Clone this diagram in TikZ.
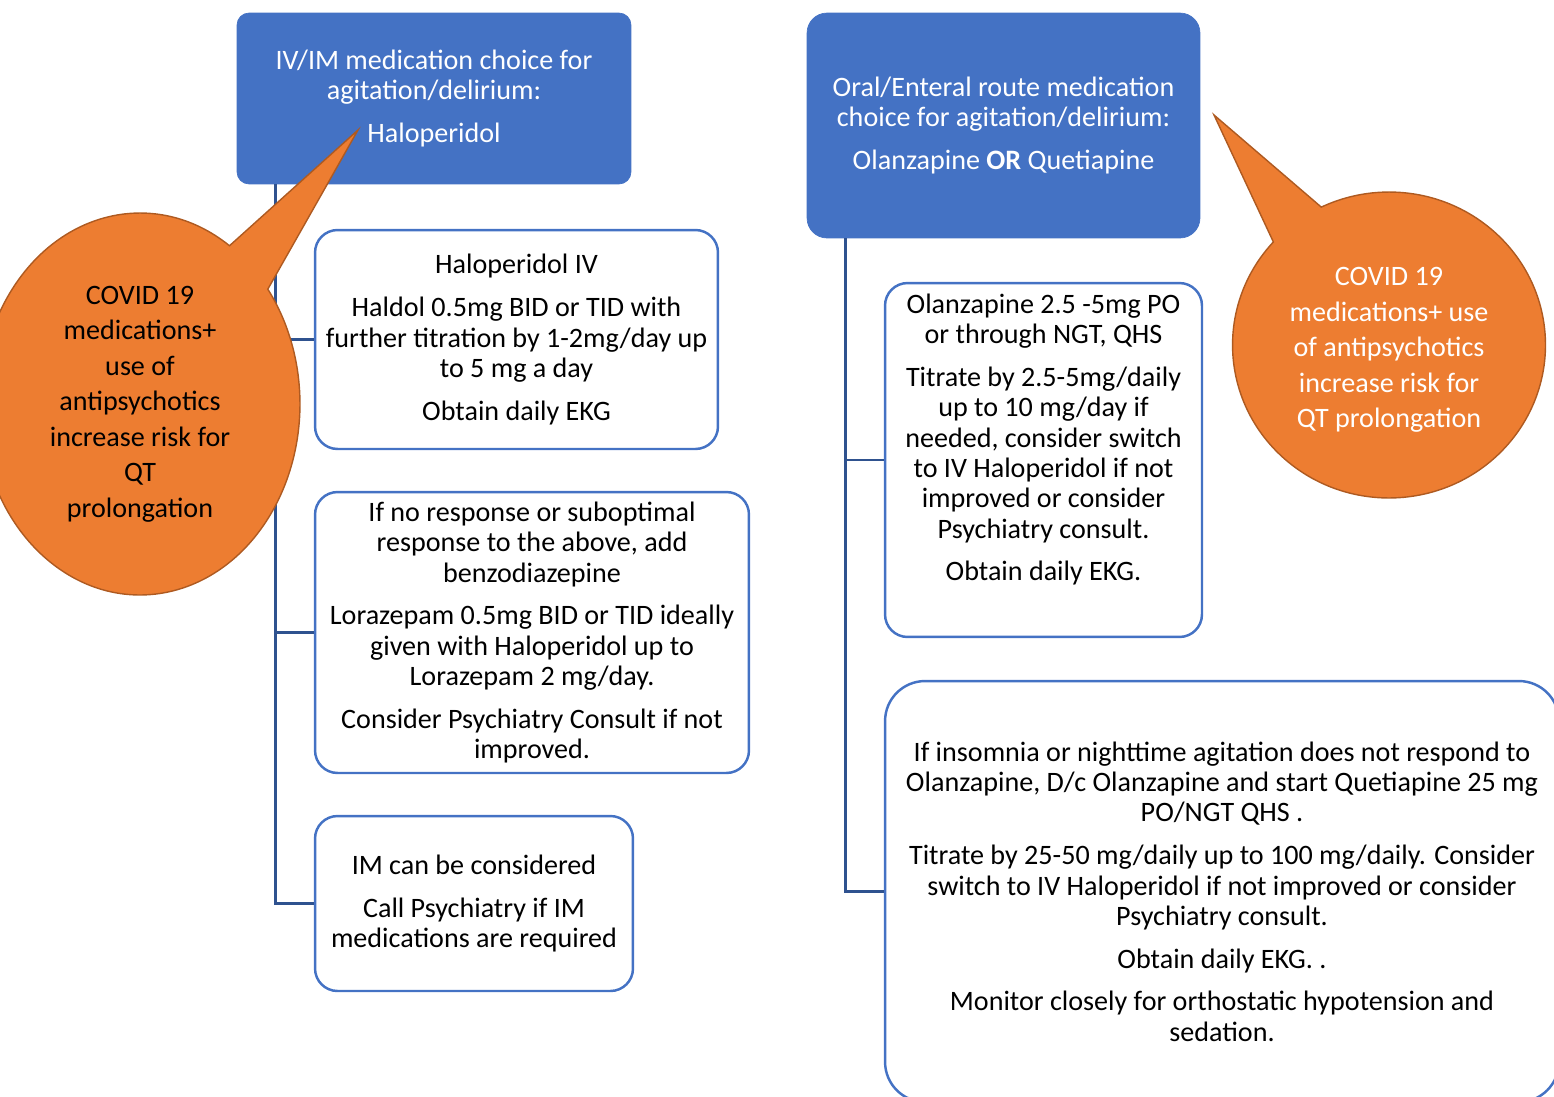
\documentclass[tikz,border=0pt]{standalone}
\usepackage{fontspec}
\setmainfont{Carlito}
\usetikzlibrary{shapes.callouts}
\definecolor{officeblue}{HTML}{4472C4}
\definecolor{linkblue}{HTML}{2F528F}
\definecolor{calloutorange}{HTML}{ED7D31}
\definecolor{calloutedge}{HTML}{AE5A21}

\begin{document}
\begin{tikzpicture}[x=0.02cm,y=-0.02cm]
        \tikzstyle{headbox} = [rectangle, fill=officeblue, draw=officeblue, text=white, align=center, font=\fontsize{16}{17.3}\selectfont]
        \tikzstyle{stepbox} = [rectangle, rounded corners=0.45cm, draw=officeblue, line width=1.4pt, fill=white, align=center, font=\fontsize{16}{17.3}\selectfont]
        \tikzstyle{bubble} = [ellipse callout, fill=calloutorange, draw=calloutedge, line width=0.8pt, align=center, inner sep=0pt, font=\fontsize{16}{20.2}\selectfont]
        \tikzstyle{link} = [draw=linkblue, line width=1.4pt]

                \path[use as bounding box, clip] (0,0) rectangle (1554,1096);

                % left column: IV/IM route
                \node (iv) [headbox, rounded corners=0.24cm, minimum width=7.88cm, minimum height=3.42cm] at (434,98.5) {IV/IM medication choice for\\agitation/delirium:\\[7pt]Haloperidol};
                \node (haloiv) [stepbox, minimum width=8.06cm, minimum height=4.38cm] at (516.5,339.5) {Haloperidol IV\\[7pt]Haldol 0.5mg BID or TID with\\further titration by 1-2mg/day up\\to 5 mg a day\\[7pt]Obtain daily EKG};
                \node (benzo) [stepbox, minimum width=8.68cm, minimum height=5.62cm] at (532,632.5) {If no response or suboptimal\\response to the above, add\\benzodiazepine\\[7pt]Lorazepam 0.5mg BID or TID ideally\\given with Haloperidol up to\\Lorazepam 2 mg/day.\\[7pt]Consider Psychiatry Consult if not\\improved.};
                \node (im) [stepbox, minimum width=6.36cm, minimum height=3.5cm] at (474,903.5) {IM can be considered\\[7pt]Call Psychiatry if IM\\medications are required};

                % right column: oral/enteral route
                \node (oral) [headbox, rounded corners=0.4cm, minimum width=7.86cm, minimum height=4.5cm] at (1003.5,125.5) {Oral/Enteral route medication\\choice for agitation/delirium:\\[7pt]Olanzapine \textbf{OR} Quetiapine};
                \node (olz) [stepbox, minimum width=6.34cm, minimum height=7.08cm] at (1043.5,460) {Olanzapine 2.5 -5mg PO\\or through NGT, QHS\\[7pt]Titrate by 2.5-5mg/daily\\up to 10 mg/day if\\needed, consider switch\\to IV Haloperidol if not\\improved or consider\\Psychiatry consult.\\[7pt]Obtain daily EKG.\\[0.3cm]\mbox{}};
                \node (quet) [stepbox, rounded corners=0.8cm, minimum width=13.48cm, minimum height=8.42cm] at (1222,891.5) {If insomnia or nighttime agitation does not respond to\\Olanzapine, D/c Olanzapine and start Quetiapine 25 mg\\PO/NGT QHS .\\[7pt]Titrate by 25-50 mg/daily up to 100 mg/daily. Consider\\switch to IV Haloperidol if not improved or consider\\Psychiatry consult.\\[7pt]Obtain daily EKG. .\\[7pt]Monitor closely for orthostatic hypotension and\\sedation.};

                \draw[link] ([xshift=0.78cm]iv.south west) |- (haloiv.west);
                \draw[link] ([xshift=0.78cm]iv.south west) |- (benzo.west);
                \draw[link] ([xshift=0.78cm]iv.south west) |- (im.west);
                \draw[link] ([xshift=0.78cm]oral.south west) |- (olz.west);
                \draw[link] ([xshift=0.78cm]oral.south west) |- (quet.west);

                % QT warnings
                \node (qtleft) [bubble, text=black, minimum width=6.4cm, minimum height=7.64cm, callout absolute pointer={(358,130)}, callout pointer arc=19] at (140,404) {COVID 19\\medications+\\use of\\antipsychotics\\increase risk for\\QT\\prolongation};
                \node (qtright) [bubble, text=white, minimum width=6.26cm, minimum height=6.12cm, callout absolute pointer={(1214,115)}, callout pointer arc=22] at (1389,345) {\rule{0pt}{16pt}COVID 19\\medications+ use\\of antipsychotics\\increase risk for\\QT prolongation};
    \end{tikzpicture}
\end{document}
